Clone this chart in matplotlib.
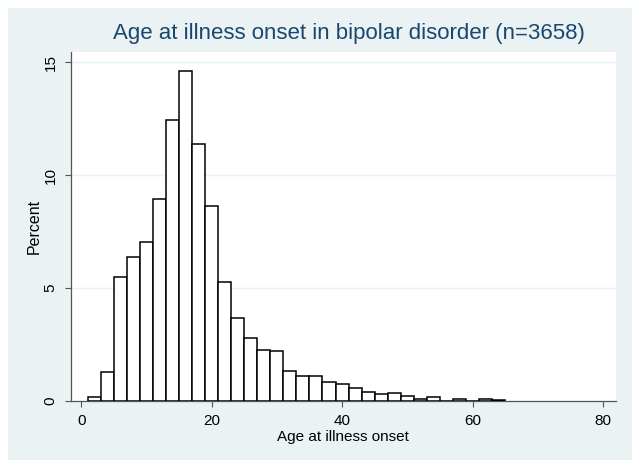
import numpy as np
import matplotlib
matplotlib.use('Agg')
import matplotlib.pyplot as plt
from matplotlib.patches import Rectangle

plt.rcParams['font.family'] = ['Liberation Sans', 'DejaVu Sans']

# histogram bins: width 2 years, starting at age 1
bin_start = 1
bin_width = 2
percent = [0.15, 1.27, 5.49, 6.38, 7.03, 8.92, 12.45, 14.61, 11.38, 8.63,
           5.25, 3.68, 2.79, 2.26, 2.21, 1.33, 1.10, 1.10, 0.81, 0.74,
           0.55, 0.39, 0.31, 0.32, 0.22, 0.06, 0.17, 0.0, 0.08, 0.0,
           0.08, 0.03]
xticks = [0, 20, 40, 60, 80]
yticks = [0, 5, 10, 15]

title = 'Age at illness onset in bipolar disorder (n=3658)'
xlabel = 'Age at illness onset'
ylabel = 'Percent'

W, H = 641, 470
fig = plt.figure(figsize=(W / 100, H / 100), dpi=100)
fig.patch.set_facecolor('white')
# stata-like light background panel
fig.patches.append(Rectangle((8 / W, 10 / H), 624 / W, 452 / H,
                             transform=fig.transFigure, facecolor='#EAF2F3',
                             edgecolor='none', zorder=-10))

ax = fig.add_axes([70.7 / W, 1 - 400.5 / H, (616 - 70.7) / W, (400.5 - 52.3) / H])
ax.set_zorder(5)
ax.set_facecolor('white')

edges = bin_start + bin_width * np.arange(len(percent))
ax.bar(edges, percent, width=bin_width, align='edge', facecolor='white',
       edgecolor='black', linewidth=1.1, zorder=3)

ax.set_xlim(-1.6, 82)
ax.set_ylim(0, 15.45)
ax.set_xticks(xticks)
ax.set_yticks(yticks)
ax.set_yticklabels([str(t) for t in yticks], rotation=90, va='center')
ax.tick_params(axis='both', direction='out', length=4.5, width=0.8,
               color='#555555', labelsize=11, labelcolor='black', pad=5)

for t in yticks[1:]:
    ax.axhline(t, color='#EAF2F3', linewidth=1.0, zorder=1)

for s in ['top', 'right']:
    ax.spines[s].set_visible(False)
for s in ['left', 'bottom']:
    ax.spines[s].set_color('#555555')
    ax.spines[s].set_linewidth(0.9)

ax.set_xlabel(xlabel, fontsize=11, labelpad=1.5)
ax.set_ylabel(ylabel, fontsize=11.5, labelpad=1)
fig.text(0.544, 1 - 39 / H, title, ha='center', va='baseline',
         fontsize=16, color='#1A476F')

fig.savefig('out.png', dpi=100, facecolor='white')
